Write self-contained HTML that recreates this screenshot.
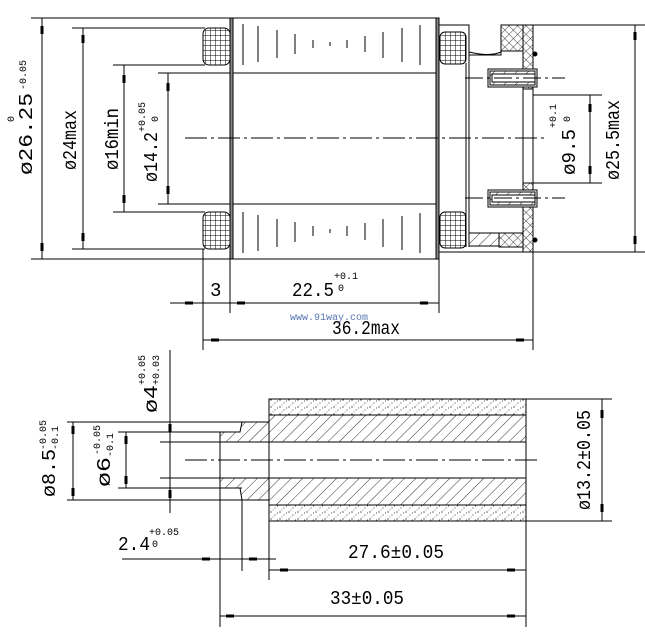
<!DOCTYPE html>
<html><head><meta charset="utf-8"><style>
html,body{margin:0;padding:0;background:#fff;}
svg{display:block;}
text{font-family:"Liberation Mono",monospace;fill:#000;}
</style></head><body>
<svg width="645" height="632" viewBox="0 0 645 632" xmlns="http://www.w3.org/2000/svg">
<defs>
<pattern id="grid" width="5" height="5" patternUnits="userSpaceOnUse"><path d="M0 0H5M0 0V5" stroke="#000" stroke-width="1"/></pattern>
<pattern id="hatch" width="8" height="8" patternUnits="userSpaceOnUse" patternTransform="rotate(45)"><path d="M0 0V8" stroke="#000" stroke-width="0.8"/></pattern>
<pattern id="xh" width="6" height="6" patternUnits="userSpaceOnUse" patternTransform="rotate(45)"><path d="M0 0H6M0 0V6" stroke="#000" stroke-width="0.7"/></pattern>
<pattern id="dots" width="9" height="7" patternUnits="userSpaceOnUse"><circle cx="1" cy="1" r="0.6"/><circle cx="5" cy="4" r="0.5"/><circle cx="3" cy="6" r="0.4"/><circle cx="7.5" cy="2" r="0.45"/></pattern>
</defs>
<g stroke="#000" stroke-width="1" fill="none">
<path d="M31 18H233M31 259H233M72 28H205M72 249H205M113 65H205M113 212H205M158 73H233M158 204H233"/>
<path d="M42 18V259M83 28V249M124 65V212M168 73V204"/>
<g stroke-width="3"><path d="M42 26v8M42 243v8M83 35v8M83 233v8M124 75v8M124 195v8M168 83v8M168 186v8"/></g>
<rect x="203" y="28" width="27" height="37" rx="6" fill="url(#grid)"/>
<rect x="203" y="212" width="27" height="37" rx="6" fill="url(#grid)"/>
<rect x="230" y="18" width="3" height="241" fill="#888"/>
<path d="M233 18H436M233 259H436M233 73H436M233 204H436M233 18V259"/>
<g stroke-width="1"><path d="M243 24V65M258 26V62M277 30V58M295 34V54M313 40V48M330 42V46M347 40V48M365 36V52M383 32V58M402 28V62M420 25V65"/>
<path d="M243 212V253M258 215V251M277 219V247M295 222V242M313 226V236M330 229V233M347 226V236M365 223V240M383 219V247M402 216V250M420 213V253"/></g>
<rect x="436" y="18" width="3" height="241" fill="#888"/>
<path d="M439 25H469V32M439 252H533"/>
<rect x="440" y="32" width="26" height="32" rx="5" fill="url(#grid)"/>
<rect x="440" y="212" width="26" height="36" rx="5" fill="url(#grid)"/>
<path d="M466 63V247M469 25V247M469 52Q490 57 501 52"/>
<path d="M469 55H501V25H533V252"/>
<rect x="501" y="25" width="22" height="26" fill="url(#xh)"/>
<rect x="523" y="25" width="10" height="64" fill="url(#xh)"/>
<rect x="523" y="183" width="10" height="69" fill="url(#xh)"/>
<path d="M523 89V183"/>
<rect x="469" y="233" width="30" height="13" fill="url(#hatch)"/>
<rect x="499" y="233" width="24" height="14" fill="url(#xh)"/>
<rect x="488" y="69" width="49" height="18" fill="#fff"/>
<rect x="488" y="69" width="49" height="18"/>
<rect x="490" y="71" width="45" height="14" fill="url(#hatch)"/>
<rect x="492" y="74" width="43" height="8" fill="#fff"/>
<rect x="488" y="190" width="49" height="17" fill="#fff"/>
<rect x="488" y="190" width="49" height="17"/>
<rect x="490" y="192" width="45" height="13" fill="url(#hatch)"/>
<rect x="492" y="195" width="43" height="7" fill="#fff"/>
<circle cx="535" cy="54" r="2" fill="#000"/><circle cx="535" cy="240" r="2" fill="#000"/>
<path d="M185 138H545" stroke-dasharray="22 4 3 4"/>
<path d="M465 78H565M465 198H565" stroke-dasharray="18 4 3 4"/>
<path d="M533 95H602M533 183H602M590 95V183M533 25H645M533 252H645M635 25V252"/>
<g stroke-width="3"><path d="M590 104v8M590 166v8M635 32v8M635 236v8"/></g>
<path d="M203 249V350M230 259V313M439 259V313M533 252V350M170 303H439M203 340H533"/>
<g stroke-width="3"><path d="M185 303h8M237 303h8M420 303h8M211 340h8M516 340h8"/></g>

<rect x="269" y="399" width="257" height="16" fill="url(#dots)"/>
<rect x="269" y="505" width="257" height="16" fill="url(#dots)"/>
<path d="M269 415H526V442H220V432H240L242 422H269Z" fill="url(#hatch)"/>
<path d="M269 505H526V478H220V488H240L242 500H269Z" fill="url(#hatch)"/>
<path d="M269 399H526V521H269ZM269 399V415"/>
<path d="M185 460H540" stroke-dasharray="22 4 3 4"/>
<path d="M67 422H242M67 500H269M118 432H220M118 488H242M160 442H220M160 478H220"/>
<path d="M73 422V500M126 432V488M170 350V513"/>
<g stroke-width="3"><path d="M73 426v8M73 488v8M126 436v8M126 476v8M170 424v8M170 490v8"/></g>
<path d="M526 399H612M526 521H612M602 399V521"/>
<g stroke-width="3"><path d="M602 410v8M602 504v8"/></g>
<path d="M242 500V571M269 521V580M220 442V627M526 521V627M122 559H276M269 570H526M220 616H526"/>
<g stroke-width="3"><path d="M202 559h8M249 559h8M280 570h8M507 570h8M226 616h8M507 616h8"/></g>
</g>

<g>
<text transform="translate(32 175) rotate(-90)" font-size="19" textLength="82" lengthAdjust="spacingAndGlyphs">ø26.25</text>
<text transform="translate(26 90) rotate(-90)" font-size="10">-0.05</text>
<text transform="translate(14 122) rotate(-90)" font-size="10">0</text>
<text transform="translate(76 170) rotate(-90)" font-size="19" textLength="60" lengthAdjust="spacingAndGlyphs">ø24max</text>
<text transform="translate(118 170) rotate(-90)" font-size="19" textLength="62" lengthAdjust="spacingAndGlyphs">ø16min</text>
<text transform="translate(157 182) rotate(-90)" font-size="19" textLength="50" lengthAdjust="spacingAndGlyphs">ø14.2</text>
<text transform="translate(145 132) rotate(-90)" font-size="10">+0.05</text>
<text transform="translate(158 122) rotate(-90)" font-size="10">0</text>
<text x="210" y="296" font-size="19">3</text>
<text x="292" y="296" font-size="19" textLength="42" lengthAdjust="spacingAndGlyphs">22.5</text>
<text x="334" y="279" font-size="10">+0.1</text>
<text x="338" y="291" font-size="10">0</text>
<text x="290" y="320" font-size="10" style="fill:#5a78b4">www.91way.com</text>
<text x="332" y="334" font-size="19" textLength="68" lengthAdjust="spacingAndGlyphs">36.2max</text>
<text transform="translate(575 175) rotate(-90)" font-size="19" textLength="46" lengthAdjust="spacingAndGlyphs">ø9.5</text>
<text transform="translate(556 128) rotate(-90)" font-size="10">+0.1</text>
<text transform="translate(570 122) rotate(-90)" font-size="10">0</text>
<text transform="translate(619 180) rotate(-90)" font-size="19" textLength="80" lengthAdjust="spacingAndGlyphs">ø25.5max</text>

<text transform="translate(55 497) rotate(-90)" font-size="19" textLength="48" lengthAdjust="spacingAndGlyphs">ø8.5</text>
<text transform="translate(46 450) rotate(-90)" font-size="10">-0.05</text>
<text transform="translate(58 450) rotate(-90)" font-size="10">-0.1</text>
<text transform="translate(110 487) rotate(-90)" font-size="19" textLength="30" lengthAdjust="spacingAndGlyphs">ø6</text>
<text transform="translate(100 455) rotate(-90)" font-size="10">-0.05</text>
<text transform="translate(113 457) rotate(-90)" font-size="10">-0.1</text>
<text transform="translate(157 413) rotate(-90)" font-size="19" textLength="28" lengthAdjust="spacingAndGlyphs">ø4</text>
<text transform="translate(145 385) rotate(-90)" font-size="10">+0.05</text>
<text transform="translate(159 385) rotate(-90)" font-size="10">+0.03</text>
<text transform="translate(590 510) rotate(-90)" font-size="19" textLength="100" lengthAdjust="spacingAndGlyphs">ø13.2±0.05</text>
<text x="118" y="550" font-size="19" textLength="32" lengthAdjust="spacingAndGlyphs">2.4</text>
<text x="149" y="535" font-size="10">+0.05</text>
<text x="152" y="547" font-size="10">0</text>
<text x="348" y="558" font-size="19" textLength="96" lengthAdjust="spacingAndGlyphs">27.6±0.05</text>
<text x="330" y="604" font-size="19" textLength="74" lengthAdjust="spacingAndGlyphs">33±0.05</text>
</g>
</svg>
</body></html>
